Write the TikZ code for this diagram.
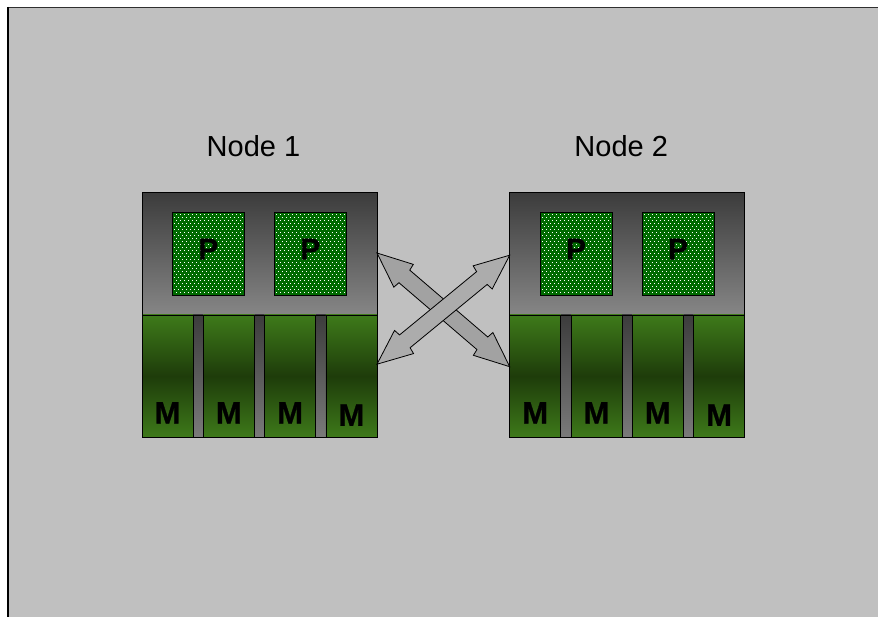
\documentclass[tikz,border=0pt]{standalone}
\usepackage{fontspec}
\setmainfont{Liberation Sans}
\newfontfamily\heavyfont{Liberation Sans Bold}[FakeBold=0.8]
\usetikzlibrary{calc,patterns}

\definecolor{bg}{HTML}{C0C0C0}
\definecolor{framegray}{HTML}{303030}
\definecolor{darkgray}{HTML}{3C3C3C}
\definecolor{midgray}{HTML}{868686}
\definecolor{gapgray}{HTML}{7A7A7A}
\definecolor{memlight}{HTML}{3E7A1A}
\definecolor{memdark}{HTML}{1E3C0A}
\definecolor{pgreen}{HTML}{006A00}
\definecolor{arrowA}{HTML}{A2A2A2}
\definecolor{arrowB}{HTML}{ACACAC}

% staggered white dot texture for the processor chips
\pgfdeclarepatternformonly{chipdots}{\pgfqpoint{-1pt}{-1pt}}{\pgfqpoint{5pt}{7pt}}{\pgfqpoint{4pt}{6pt}}{%
  \pgfpathrectangle{\pgfqpoint{0pt}{0pt}}{\pgfqpoint{0.9pt}{0.9pt}}%
  \pgfpathrectangle{\pgfqpoint{2pt}{3pt}}{\pgfqpoint{0.9pt}{0.9pt}}%
  \pgfusepath{fill}}

\tikzset{
  box/.style={inner sep=0pt, outer sep=0pt, anchor=north west},
  procarea/.style={box, minimum width=235pt, minimum height=122.3pt,
    top color=darkgray, bottom color=midgray, draw=black, line width=0.8pt},
  pbox/.style={box, minimum width=72pt, minimum height=82.6pt,
    preaction={fill=pgreen}, pattern=chipdots, pattern color=white,
    draw=black, line width=0.8pt},
  membar/.style={box, minimum width=51pt, minimum height=122.7pt,
    top color=memlight, bottom color=memlight, middle color=memdark,
    draw=black, line width=0.8pt},
  gapbar/.style={box, minimum width=10.3pt, minimum height=122.7pt,
    top color=darkgray, bottom color=gapgray, draw=black, line width=0.8pt},
  outline/.style={box, minimum width=235pt, minimum height=245pt,
    draw=black, line width=1pt},
  title/.style={anchor=base, inner sep=0pt, font=\fontsize{29}{34}\selectfont},
  letter/.style={anchor=base, inner sep=0pt, font=\heavyfont\fontsize{30}{34}\selectfont},
  mletter/.style={letter, font=\heavyfont\fontsize{31}{35}\selectfont},
  link/.style={draw=black, line width=0.8pt, line join=miter},
}

% one shared-memory node: processor area, two chips, four memory banks
\newcommand\computer[3]{%
  \begin{scope}[shift={(#2,0)}]
    \node[title] (#1lbl) at (111.5,157) {#3};
    \node[procarea] (#1top) at (0,192.7) {};
    \node[pbox] (#1p1) at (30.3,212.7) {};
    \node[pbox] (#1p2) at (132.3,212.7) {};
    \node[letter] (#1pl1) at (66.3,259.5) {P};
    \node[letter] (#1pl2) at (168.3,259.5) {P};
    \foreach \i/\gx in {1/51,2/112.3,3/173.6}
      \node[gapbar] (#1g\i) at (\gx,315) {};
    \foreach \i/\bx in {1/0,2/61.3,3/122.6,4/183.9}
      \node[membar] (#1m\i) at (\bx,315) {};
    \foreach \i/\bx in {1/25.5,2/86.8,3/148.1}
      \node[mletter] (#1ml\i) at (\bx,423.5) {M};
    \node[mletter] (#1ml4) at (209.4,425.8) {M};
    \node[outline] (#1) at (0,192.7) {};
  \end{scope}}

% double-headed block arrow between two named points
\newcommand\dblarrow[3]{%
  \filldraw[link, fill=#3]
    (#1)
    -- ($(#1)!35pt!(#2)!15pt!90:(#2)$)
    -- ($(#1)!36pt!(#2)!8.3pt!90:(#2)$)
    -- ($(#2)!36pt!(#1)!8.3pt!-90:(#1)$)
    -- ($(#2)!35pt!(#1)!15pt!-90:(#1)$)
    -- (#2)
    -- ($(#2)!35pt!(#1)!15pt!90:(#1)$)
    -- ($(#2)!36pt!(#1)!8.3pt!90:(#1)$)
    -- ($(#1)!36pt!(#2)!8.3pt!-90:(#2)$)
    -- ($(#1)!35pt!(#2)!15pt!-90:(#2)$)
    -- cycle;}

\begin{document}
\begin{tikzpicture}[x=1pt, y=-1pt]
  \useasboundingbox (0,0) rectangle (878,617);
  \fill[white] (0,0) rectangle (878,617);
  \fill[bg] (8,8) rectangle (878,617);
  \draw[framegray, line width=1.6pt] (8,7.6) -- (878,7.6);
  \draw[black, line width=2.6pt] (8,6.8) -- (8,617);

  \computer{n1}{142}{Node 1}
  \computer{n2}{509.7}{Node 2}

  \coordinate (e1) at ($(n1.north east)+(0,60.3)$);
  \coordinate (e2) at ($(n1.north east)+(0,171.5)$);
  \coordinate (f1) at ($(n2.north west)+(0,62.5)$);
  \coordinate (f2) at ($(n2.north west)+(0,174)$);

  \dblarrow{e1}{f2}{arrowA}
  \dblarrow{e2}{f1}{arrowB}
\end{tikzpicture}
\end{document}
